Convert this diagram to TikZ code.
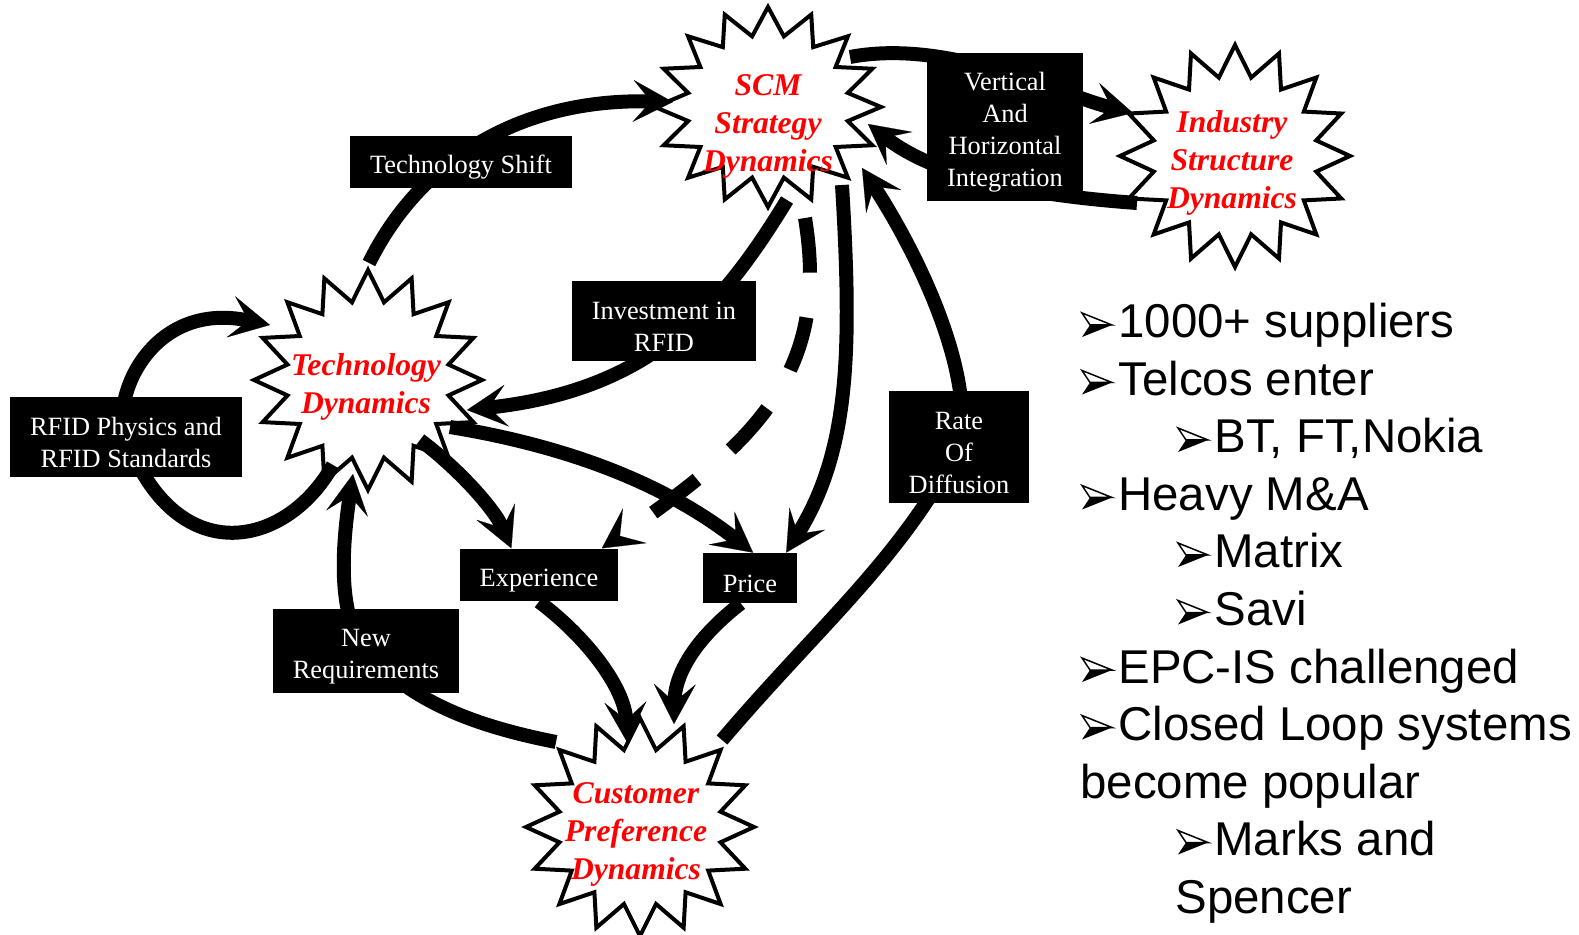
\documentclass[tikz,border=0pt]{standalone}
\usepackage{fontspec}
\setmainfont{Liberation Serif}
\newfontfamily\listfont{Liberation Sans}
\usetikzlibrary{arrows.meta, calc}
\pgfdeclarelayer{front}
\pgfsetlayers{main,front}

% 16-point burst round a centre, radii in px
\newcommand\burst[3]{%
  \draw[burstline] ($#1+(0:#2 and #3)$)
    \foreach \np [evaluate=\np as \rf using {mod(\np,2)==0 ? 1 : 0.72}] in {1,...,31}
      { -- ($#1+({\np*11.25}:{\rf*#2} and {\rf*#3})$) } -- cycle;
}
% taller first line so the label text sits a little low in its box
\newcommand\tallstrut{\rule{0pt}{1.1em}}

\begin{document}
\begin{tikzpicture}[x=0.02cm, y=-0.02cm,
  burstline/.style={draw=black, fill=white, line width=0.08cm, line join=miter},
  title/.style={text=red, font=\fontsize{18}{21.6}\selectfont\bfseries\itshape, align=center, inner sep=0pt},
  lbl/.style={fill=black, text=white, font=\fontsize{15}{18.2}\selectfont, align=center, inner xsep=0.4cm, inner ysep=0.18cm,
    minimum height=1cm},
  conn/.style={line width=0.28cm, -{Stealth[length=0.8cm, width=0.84cm, inset=0.36cm, line width=0.1pt]}},
  fact/.style={font=\listfont\fontsize{27}{32.7}\selectfont, anchor=base west, inner sep=0pt},
  arrowbullet/.style={line width=0.03cm, line join=miter}]

\useasboundingbox (0,0) rectangle (1579,935);

% the four dynamics
\burst{(768,107)}{113}{100}
\node[title] (scm) at (768,126) {SCM\\Strategy\\Dynamics};
\burst{(1235,156)}{115}{111}
\node[title] (ind) at (1232,163) {Industry\\Structure\\Dynamics};
\burst{(368,380)}{114}{110}
\node[title] (tech) at (366,387) {Technology\\Dynamics};
\burst{(640,827)}{114}{109}
\node[title] (cust) at (636,834) {Customer\\Preference\\Dynamics};

% labels sit above the arrows
\begin{pgfonlayer}{front}
\node[lbl] (techshift) at (461,162) {\tallstrut Technology Shift};
\node[lbl] (invest) at (664,321) {\tallstrut Investment in\\RFID};
\node[lbl] (rfid) at (126,437) {\tallstrut RFID Physics and\\RFID Standards};
\node[lbl] (vert) at (1005,127) {\tallstrut Vertical\\And\\Horizontal\\Integration};
\node[lbl] (rate) at (959,447) {\tallstrut Rate\\Of\\Diffusion};
\node[lbl] (exp) at (539,575) {\tallstrut Experience};
\node[lbl] (price) at (750,578) {\tallstrut Price};
\node[lbl] (newreq) at (366,651) {\tallstrut New\\Requirements};
\end{pgfonlayer}

% arrows
\draw[conn] ([shift={(3,-124)}]tech.center) .. controls (420,160) and (520,98) .. ([shift={(-95,-24)}]scm.center);
\draw[conn] ([shift={(82,-69)}]scm.center) .. controls (950,38) and (1060,95) .. ([shift={(-99,-50)}]ind.center);
\draw[conn] ([shift={(-95,40)}]ind.center) .. controls (1040,196) and (940,180) .. ([shift={(100,-2)}]scm.center);
\draw[conn] ([shift={(19,74)}]scm.center) .. controls (720,310) and (650,390) .. ([shift={(101,23)}]tech.center);
\draw[conn, dash pattern=on 1.1cm off 0.9cm] ([shift={(37,92)}]scm.center) .. controls (830,370) and (760,440) .. (exp.23);
\draw[conn] ([shift={(74,59)}]scm.center) .. controls (852,350) and (850,450) .. (price.35);
\draw[conn] ([shift={(86,-94)}]cust.center) .. controls (820,625) and (900,560) .. (rate.center)
  .. controls (975,380) and (925,265) .. ([shift={(94,42)}]scm.center);
\draw[conn] ([shift={(54,53)}]tech.center) .. controls (460,470) and (495,510) .. (exp.136);
\draw[conn] ([shift={(84,40)}]tech.center) .. controls (560,445) and (660,480) .. (price.83);
\draw[conn] (exp.south) .. controls (590,640) and (625,690) .. ([shift={(-9,-92)}]cust.center);
\draw[conn] (price.250) .. controls (700,635) and (675,670) .. ([shift={(38,-110)}]cust.center);
\draw[conn] ([shift={(-80,-92)}]cust.center) .. controls (470,725) and (410,700) .. (newreq.center)
  .. controls (340,620) and (340,560) .. ([shift={(-13,87)}]tech.center);
\draw[conn] ([shift={(-33,78)}]tech.center) .. controls (285,550) and (175,570) .. (rfid.center)
  .. controls (110,400) and (150,300) .. ([shift={(-96,-62)}]tech.center);

% list on the right, bullets are little 3D arrowheads
\foreach \lx/\hasb/\txt [count=\row, evaluate=\row as \by using {338+57.5*(\row-1)}] in
    {1082/1/{1000+ suppliers}, 1082/1/{Telcos enter}, 1178/1/{BT, FT,Nokia},
     1082/1/{Heavy M\&A}, 1178/1/{Matrix}, 1178/1/{Savi}, 1082/1/{EPC-IS challenged},
     1082/1/{Closed Loop systems}, 1080/0/{become popular}, 1178/1/{Marks and}, 1175/0/{Spencer}}{
  \node[fact] (fact-\row) at ({\lx+36*\hasb},\by) {\txt};
  \ifnum\hasb=1
    \fill[arrowbullet] (\lx,{\by-1}) -- ({\lx+30},{\by-13}) -- ({\lx+8},{\by-13}) -- cycle;
    \draw[arrowbullet, fill=white] (\lx,{\by-25}) -- ({\lx+30},{\by-13}) -- ({\lx+8},{\by-13}) -- cycle;
  \fi
}

\end{tikzpicture}
\end{document}
